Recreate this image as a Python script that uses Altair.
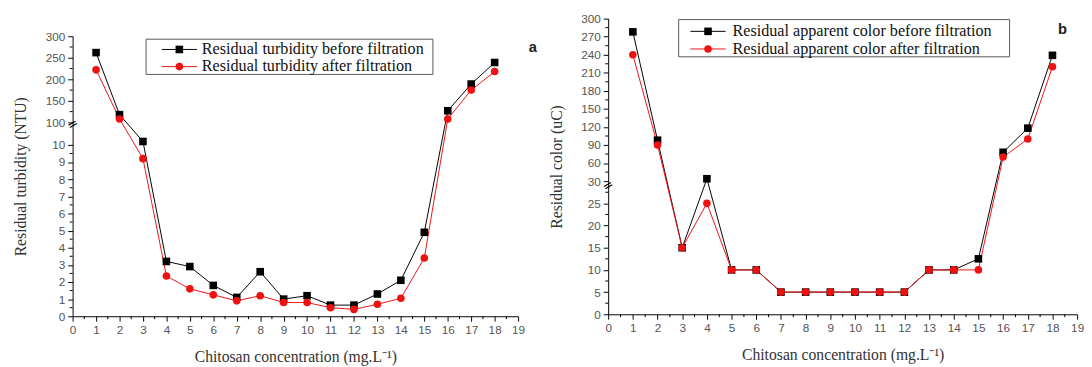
import altair as alt
import pandas as pd

x_conc = list(range(1, 19))
turb_before = [262, 118, 10.2, 3.2, 2.9, 1.8, 1.1, 2.6, 1.0, 1.2, 0.65, 0.65, 1.3, 2.1, 4.9, 127, 189, 239]
turb_after = [222, 108, 9.2, 2.35, 1.6, 1.25, 0.9, 1.2, 0.8, 0.8, 0.5, 0.4, 0.7, 1.05, 3.4, 108, 175, 218]
color_before = [278, 98, 15, 34, 10, 10, 5, 5, 5, 5, 5, 5, 10, 10, 12.5, 78, 118, 239]
color_after = [240, 90, 15, 25, 10, 10, 5, 5, 5, 5, 5, 5, 10, 10, 10, 70, 100, 220]

turb_series = ["Residual turbidity before filtration", "Residual turbidity after filtration"]
color_series = ["Residual apparent color before filtration", "Residual apparent color after filtration"]

x_major = list(range(0, 20))
x_minor = [i + 0.5 for i in range(0, 19)]
turb_y_major = list(range(0, 11)) + list(range(100, 301, 50))
turb_y_minor = [i + 0.5 for i in range(0, 10)] + list(range(125, 300, 50))
color_y_major = list(range(0, 26, 5)) + list(range(30, 301, 30))
color_y_minor = [i * 5 + 2.5 for i in range(0, 6)] + list(range(45, 300, 30))

SERIES_COLORS = ["#000000", "#ee1111"]
SERIES_SHAPES = ["square", "circle"]
SERIF = "Liberation Serif"
MARK_SIZE = 60


def make_df(series, before, after):
    rows = []
    for xv, b in zip(x_conc, before):
        rows.append({"x": xv, "y": b, "series": series[0]})
    for xv, a in zip(x_conc, after):
        rows.append({"x": xv, "y": a, "series": series[1]})
    return pd.DataFrame(rows)


def panel(df, series, ydomain, yrange, ymajor, yminor, ytitle, width, height,
          box, rows_y, sym_x, text_x, letter, letter_x, letter_y, break_val):
    xscale = alt.Scale(domain=[0, 19], nice=False, zero=False)
    xenc = alt.X(
        "x:Q", scale=xscale,
        axis=alt.Axis(
            values=x_major, format="d",
            title="Chitosan concentration (mg.L⁻¹)",
            tickSize=5, labelPadding=4, titlePadding=13,
            labelOverlap=False, labelFlush=False,
        ),
    )
    yscale = alt.Scale(domain=ydomain, range=yrange, nice=False, zero=False)
    yenc = alt.Y(
        "y:Q", scale=yscale,
        axis=alt.Axis(
            values=ymajor, format="d", title=ytitle,
            tickSize=5, labelPadding=3, titlePadding=17,
            labelOverlap=False, labelFlush=False,
        ),
    )
    cscale = alt.Scale(domain=series, range=SERIES_COLORS)
    base = alt.Chart(df)
    layers = []
    layers.append(base.mark_line(strokeWidth=1).encode(
        x=xenc, y=yenc, color=alt.Color("series:N", scale=cscale, legend=None)
    ))
    for s, c, shp in zip(series, SERIES_COLORS, SERIES_SHAPES):
        layers.append(base.transform_filter(alt.datum.series == s).mark_point(
            shape=shp, filled=True, size=MARK_SIZE, opacity=1, color=c
        ).encode(x=xenc, y=yenc))
    # minor ticks
    layers.append(alt.Chart(pd.DataFrame({"x": x_minor})).mark_rule(
        color="#000", strokeWidth=1
    ).encode(x=xenc, y=alt.value(height), y2=alt.value(height + 3)))
    layers.append(alt.Chart(pd.DataFrame({"y": yminor})).mark_rule(
        color="#000", strokeWidth=1
    ).encode(y=yenc, x=alt.value(-3), x2=alt.value(0)))
    # axis break marker
    layers.append(alt.Chart(pd.DataFrame({"y": [break_val], "t": ["="]})).mark_text(
        angle=330, fontSize=13, color="#000", font="DejaVu Sans"
    ).encode(x=alt.value(0), y=yenc, text="t:N"))
    # panel letter
    layers.append(alt.Chart(pd.DataFrame({"t": [letter]})).mark_text(
        fontSize=15, fontWeight="bold", font="Liberation Sans", color="#222"
    ).encode(x=alt.value(letter_x), y=alt.value(letter_y), text="t:N"))
    # legend box
    leg_df = pd.DataFrame({"t": [""]})
    layers.append(alt.Chart(leg_df).mark_rect(
        fill="#ffffff", stroke="#555", strokeWidth=1
    ).encode(x=alt.value(box[0]), x2=alt.value(box[1]),
             y=alt.value(box[2]), y2=alt.value(box[3])))
    for s, c, shp, ry in zip(series, SERIES_COLORS, SERIES_SHAPES, rows_y):
        sdf = pd.DataFrame({"t": [s]})
        layers.append(alt.Chart(sdf).mark_rule(color=c, strokeWidth=1).encode(
            x=alt.value(sym_x - 18), x2=alt.value(sym_x + 18), y=alt.value(ry)))
        layers.append(alt.Chart(sdf).mark_point(
            shape=shp, filled=True, size=MARK_SIZE, opacity=1, color=c
        ).encode(x=alt.value(sym_x), y=alt.value(ry)))
        layers.append(alt.Chart(sdf).mark_text(
            align="left", baseline="middle", font=SERIF,
            fontSize=16.5, color="#111"
        ).encode(x=alt.value(text_x), y=alt.value(ry), text="t:N"))
    return alt.layer(*layers).properties(width=width, height=height)


df_a = make_df(turb_series, turb_before, turb_after)
df_b = make_df(color_series, color_before, color_after)

pa = panel(df_a, turb_series, [0, 10.6, 97, 300], [304, 118.5, 107.3, 18], turb_y_major,
           turb_y_minor, "Residual turbidity (NTU)", 455, 304,
           (75, 368, 21, 57), (31.5, 49), 109, 132, "a", 470, 29, 90)
pb = panel(df_b, color_series, [0, 30, 300], [302, 166, 0], color_y_major,
           color_y_minor, "Residual color (uC)", 479, 302,
           (72, 410, 1, 39), (13, 31), 102, 127, "b", 464, 11, 29)

chart = alt.hconcat(pa, pb, spacing=92, bounds="flush").properties(
    padding={"left": 4, "top": 1, "right": 0, "bottom": 0}
).configure_axis(
    domainColor="#000", tickColor="#000", labelFont="Liberation Sans",
    labelFontSize=12, labelColor="#555", titleFont=SERIF,
    titleFontSize=16, titleFontWeight="normal", titleColor="#333", grid=False,
    labelOverlap=False,
).configure_view(stroke=None)

chart.save("out.html", embed_options={"renderer": "svg", "actions": False})
